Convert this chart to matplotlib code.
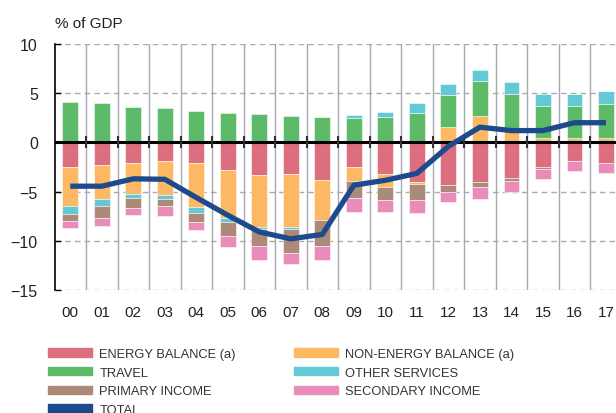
import matplotlib
matplotlib.use("Agg")
import matplotlib.pyplot as plt
from matplotlib.patches import Patch
import numpy as np

# Current account components, % of GDP
years = ["00", "01", "02", "03", "04", "05", "06", "07", "08",
         "09", "10", "11", "12", "13", "14", "15", "16", "17"]
energy = [-2.5, -2.3, -2.1, -1.9, -2.1, -2.8, -3.3, -3.2, -3.8,
          -2.5, -3.2, -4.0, -4.3, -4.0, -3.6, -2.5, -1.9, -2.1]
non_energy = [-4.0, -3.5, -3.1, -3.4, -4.5, -4.9, -5.3, -5.4, -4.1,
              -1.4, -1.3, -0.2, 1.6, 2.7, 1.5, 0.4, 0.4, 0.4]
travel = [4.15, 4.0, 3.6, 3.5, 3.2, 3.0, 2.9, 2.7, 2.6,
          2.5, 2.6, 3.0, 3.2, 3.5, 3.4, 3.3, 3.3, 3.5]
other_services = [-0.8, -0.7, -0.45, -0.45, -0.55, -0.35, -0.2, -0.2, 0.0,
                  0.25, 0.5, 1.0, 1.15, 1.2, 1.2, 1.2, 1.25, 1.3]
primary_income = [-0.7, -1.2, -1.0, -0.75, -0.9, -1.45, -1.7, -2.4, -2.6,
                  -1.8, -1.35, -1.65, -0.7, -0.5, -0.35, -0.2, 0.0, 0.0]
secondary_income = [-0.7, -0.75, -0.75, -0.95, -0.85, -1.1, -1.45, -1.2, -1.45,
                    -1.35, -1.25, -1.35, -1.1, -1.25, -1.1, -1.0, -1.05, -1.0]
total = [-4.45, -4.45, -3.7, -3.75, -5.6, -7.4, -9.1, -9.8, -9.35,
         -4.35, -3.85, -3.15, -0.4, 1.55, 1.2, 1.2, 2.0, 2.0]

series = [
    ("ENERGY BALANCE (a)", energy, "#dc6e7f"),
    ("NON-ENERGY BALANCE (a)", non_energy, "#fdb863"),
    ("TRAVEL", travel, "#5cba68"),
    ("OTHER SERVICES", other_services, "#63c9d6"),
    ("PRIMARY INCOME", primary_income, "#ab8a78"),
    ("SECONDARY INCOME", secondary_income, "#e98cba"),
]
total_color = "#1c4a8c"

plt.rcParams["font.family"] = ["Liberation Sans", "DejaVu Sans"]

fig = plt.figure(figsize=(6.16, 4.14), dpi=100)
ax = fig.add_axes([54.5 / 616, 123 / 414, 1 - 54.5 / 616, 246 / 414])

x = np.arange(len(years))
pos_bottom = np.zeros(len(years))
neg_bottom = np.zeros(len(years))
for label, vals, color in series:
    vals = np.array(vals)
    bottom = np.where(vals >= 0, pos_bottom, neg_bottom)
    ax.bar(x, vals, width=0.5, bottom=bottom, color=color,
           edgecolor=(1, 1, 1, 0.6), linewidth=0.6, zorder=2)
    pos_bottom += np.clip(vals, 0, None)
    neg_bottom += np.clip(vals, None, 0)

# grid
for yv in [10, 5, -5, -10, -15]:
    ax.axhline(yv, color="#aaaaaa", lw=1.0, ls=(0, (4, 3)), zorder=1)
for xv in x[:-1] + 0.5:
    ax.axvline(xv, color="#a8a8b0", lw=1.0, zorder=1)

ax.axhline(0, color="black", lw=2.2, zorder=3)
ax.plot(x[:-1] + 0.5, np.zeros(len(x) - 1), ls="none", marker="|",
        ms=8, mew=1.5, color="#333333", zorder=3)

ax.plot(x, total, color=total_color, lw=3.8, zorder=4, solid_capstyle="butt")

ax.set_xlim(-0.5, 17.32)
ax.set_ylim(-15, 10)
ax.set_yticks([10, 5, 0, -5, -10, -15])
ax.set_xticks(x)
ax.set_xticklabels(years)
ax.tick_params(axis="x", length=0, pad=11, labelsize=11, colors="#222222")
ax.tick_params(axis="y", direction="in", length=4, width=1, pad=12,
               labelsize=11.5, colors="#222222")
ax.tick_params(axis="y", color="black")
for side in ["top", "right", "bottom"]:
    ax.spines[side].set_visible(False)
ax.spines["left"].set_linewidth(1.2)
ax.spines["left"].set_zorder(5)

fig.text(55 / 616, 1 - 24 / 414, "% of GDP", fontsize=11, color="#222222",
         va="center", ha="left")

# legend in two columns
leg_font = {"family": ["Liberation Sans", "DejaVu Sans"], "size": 9.3}
col1 = [Patch(color=series[0][2]), Patch(color=series[2][2]),
        Patch(color=series[4][2]), Patch(color=total_color)]
lab1 = [series[0][0], series[2][0], series[4][0], "TOTAL"]
col2 = [Patch(color=series[1][2]), Patch(color=series[3][2]),
        Patch(color=series[5][2])]
lab2 = [series[1][0], series[3][0], series[5][0]]

for handles, labels, xpos in [(col1, lab1, 47.7), (col2, lab2, 293.7)]:
    leg = fig.legend(handles, labels, loc="upper left",
                     bbox_to_anchor=(xpos / 616, 1 - 349 / 414),
                     frameon=False, borderpad=0, borderaxespad=0,
                     handlelength=3.4, handleheight=0.65, handletextpad=0.6,
                     labelspacing=0.52, prop=leg_font, labelcolor="#333333")

fig.savefig("out.png", dpi=100)
